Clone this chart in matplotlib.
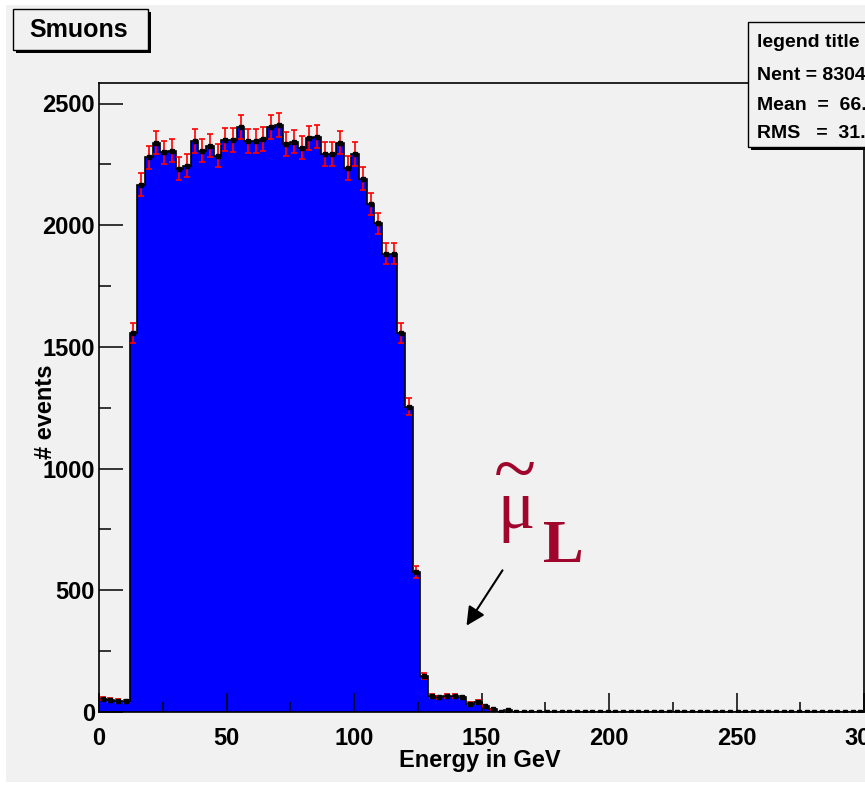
import numpy as np
import matplotlib
matplotlib.use("Agg")
import matplotlib.pyplot as plt
from matplotlib.patches import Rectangle, FancyArrowPatch

# ---- histogram contents: 100 bins of 3 GeV from 0 to 300 GeV ----
bin_width = 3.0
bin_edges = np.arange(0, 300 + bin_width, bin_width)
counts = np.array(
    [55, 50, 45, 44,
     1557, 2167, 2279, 2339, 2300, 2306, 2231, 2245, 2346, 2306, 2327, 2285,
     2352, 2350, 2405, 2346, 2346, 2353, 2405, 2413, 2334, 2343, 2319, 2358,
     2364, 2293, 2293, 2339, 2235, 2293, 2191, 2086, 2007, 1882, 1882, 1557,
     1255, 574, 149, 67, 60, 67, 64, 60, 34, 41, 25,
     11, 0, 7]
    + [0] * 46, dtype=float)
n_entries = 83040

x_ticks = [0, 50, 100, 150, 200, 250, 300]
y_ticks = [0, 500, 1000, 1500, 2000, 2500]

W, H = 865, 785
BG = "#f1f1f1"
FONT = ["Liberation Sans"]


def fx(px):
    return px / W


def fy(py):
    return 1 - py / H


fig = plt.figure(figsize=(W / 100, H / 100), dpi=100, facecolor="white")
fig.patches.append(Rectangle((fx(6), fy(782)), fx(W - 6), (782 - 5) / H,
                             transform=fig.transFigure, facecolor=BG,
                             edgecolor="none", zorder=-10))

ax = fig.add_axes([fx(99), 73 / H, 765 / W, 629 / H])
ax.set_zorder(1)
ax.set_facecolor(BG)
ax.set_xlim(0, 300)
ax.set_ylim(0, 629 / 0.2434)

centers = 0.5 * (bin_edges[:-1] + bin_edges[1:])
errors = np.sqrt(counts)

ax.stairs(counts, bin_edges, fill=True, color="#0000ff", zorder=1)
ax.stairs(counts, bin_edges, color="black", lw=1.2, zorder=2)
nz = counts > 0
ax.errorbar(centers[nz], counts[nz], yerr=errors[nz], fmt="none",
            ecolor="#ff0000", elinewidth=1.2, capsize=2.2, capthick=1.2,
            zorder=3)
ax.plot(centers, counts, "s", color="black", markersize=3.2, zorder=4)

for s in ax.spines.values():
    s.set_linewidth(1.2)
    s.set_zorder(5)

ax.set_xticks(x_ticks)
ax.set_yticks(y_ticks)
ax.set_xticks(np.arange(25, 300, 50), minor=True)
ax.set_yticks(np.arange(250, 2600, 500), minor=True)
ax.tick_params(axis="x", which="major", direction="in", length=14, width=1.1,
               pad=11, labelsize=17)
ax.tick_params(axis="x", which="minor", direction="in", length=7.5, width=1.1)
ax.tick_params(axis="y", which="major", direction="in", length=17, width=1.1,
               pad=3, labelsize=17)
ax.tick_params(axis="y", which="minor", direction="in", length=8.5, width=1.1)
for lab in ax.get_xticklabels() + ax.get_yticklabels():
    lab.set_family(FONT)
    lab.set_fontweight("bold")

# axis titles
fig.text(fx(480), fy(761), "Energy in GeV", ha="center", va="center",
         fontsize=17, fontweight="bold", family=FONT, zorder=8)
fig.text(fx(45), fy(412), "# events", ha="center", va="center", rotation=90,
         fontsize=17, fontweight="bold", family=FONT, zorder=8)

# title box
fig.patches.append(Rectangle((fx(16), fy(53)), fx(135), 41 / H,
                             transform=fig.transFigure, facecolor="black",
                             edgecolor="none", zorder=6))
fig.patches.append(Rectangle((fx(13), fy(50)), fx(135), 41 / H,
                             transform=fig.transFigure, facecolor=BG,
                             edgecolor="black", lw=1.0, zorder=7))
fig.text(fx(79), fy(30), "Smuons", ha="center", va="center", fontsize=18,
         fontweight="bold", family=FONT, zorder=8)

# statistics box
mean = np.sum(counts * centers) / np.sum(counts)
rms = np.sqrt(np.sum(counts * (centers - mean) ** 2) / np.sum(counts))
fig.patches.append(Rectangle((fx(751), fy(150)), fx(200), 125 / H,
                             transform=fig.transFigure, facecolor="black",
                             edgecolor="none", zorder=6))
fig.patches.append(Rectangle((fx(748), fy(147)), fx(200), 125 / H,
                             transform=fig.transFigure, facecolor=BG,
                             edgecolor="black", lw=1.0, zorder=7))
stat_lines = ["legend title", f"Nent = {n_entries}",
              f"Mean  =  {mean:.2f}", f"RMS   =  {rms:.2f}"]
for txt, base in zip(stat_lines, [47, 80, 110, 138]):
    fig.text(fx(757), fy(base), txt, ha="left", va="baseline", fontsize=14,
             fontweight="bold", family=FONT, zorder=8)

# smuon label with arrow
label_color = "#a0062c"
fig.text(fx(497), fy(528), "\u03bc", ha="left", va="baseline", fontsize=50,
         family=["Liberation Serif"], color=label_color, zorder=8)
fig.text(fx(494), fy(494), "~", ha="left", va="baseline", fontsize=56,
         family=["Liberation Serif"], color=label_color, zorder=8)
fig.text(fx(543), fy(562), "L", ha="left", va="baseline", fontsize=44,
         fontweight="bold", family=["Liberation Serif"], color=label_color,
         zorder=8)
fig.patches.append(FancyArrowPatch(
    (fx(504), fy(568)), (fx(465), fy(628)), transform=fig.transFigure,
    arrowstyle="-|>", mutation_scale=28, lw=1.5, color="black", zorder=8))

fig.savefig("out.png", dpi=100, facecolor=fig.get_facecolor())
